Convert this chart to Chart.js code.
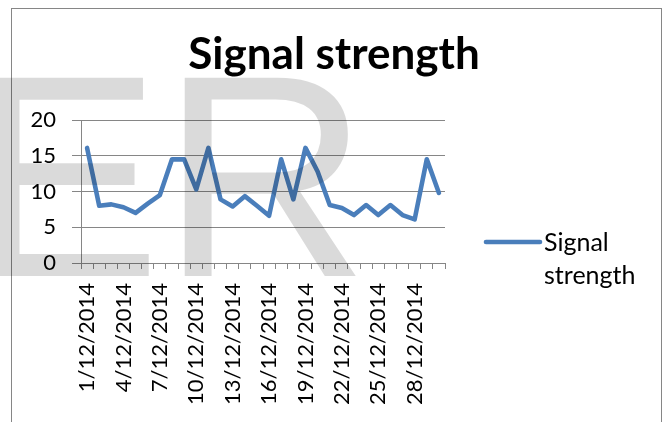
<!DOCTYPE html>
<html>
<head>
<meta charset="utf-8">
<script src="https://cdn.jsdelivr.net/npm/chart.js@4"></script>
<style>
  html, body { margin: 0; padding: 0; background: #ffffff; }
  #wrap { position: relative; width: 668px; height: 422px; }
</style>
</head>
<body>
<div id="wrap"><canvas id="chart" width="668" height="422"></canvas></div>
<script>
// Daily dates for December 2014
const days = [
  '1/12/2014', '2/12/2014', '3/12/2014', '4/12/2014', '5/12/2014', '6/12/2014',
  '7/12/2014', '8/12/2014', '9/12/2014', '10/12/2014', '11/12/2014', '12/12/2014',
  '13/12/2014', '14/12/2014', '15/12/2014', '16/12/2014', '17/12/2014', '18/12/2014',
  '19/12/2014', '20/12/2014', '21/12/2014', '22/12/2014', '23/12/2014', '24/12/2014',
  '25/12/2014', '26/12/2014', '27/12/2014', '28/12/2014', '29/12/2014', '30/12/2014'
];

// Measured signal strength per day
const signalStrength = [
  16.1, 8.0, 8.2, 7.8, 7.0, 8.3,
  9.5, 14.5, 14.5, 10.3, 16.1, 8.9,
  7.9, 9.35, 8.0, 6.6, 14.5, 8.9,
  16.1, 12.8, 8.1, 7.7, 6.7, 8.1,
  6.7, 8.1, 6.7, 6.1, 14.5, 9.8
];

const yTickValues = [0, 5, 10, 15, 20];
const seriesName = 'Signal strength';
const watermarkText = 'ER';

const AXIS_GREY = '#868686';
const LINE_BLUE = '#4a7ebb';
const FONT = 'Lato, "Open Sans", sans-serif';

// Outer frame of the chart object
const framePlugin = {
  id: 'frame',
  beforeDraw(chart) {
    const ctx = chart.ctx;
    ctx.save();
    ctx.strokeStyle = AXIS_GREY;
    ctx.lineWidth = 1;
    ctx.strokeRect(11.5, 8.5, 650, 500);
    ctx.restore();
  }
};

// Legend drawn to the right of the plot: line sample plus wrapped label
const sideLegendPlugin = {
  id: 'sideLegend',
  afterDatasetsDraw(chart) {
    const ctx = chart.ctx;
    const ds = chart.data.datasets[0];
    const area = chart.chartArea;
    const x0 = area.right + 41;
    const yLine = area.top + 122;
    ctx.save();
    ctx.strokeStyle = ds.borderColor;
    ctx.lineWidth = ds.borderWidth;
    ctx.lineCap = 'round';
    ctx.beginPath();
    ctx.moveTo(x0, yLine);
    ctx.lineTo(x0 + 54, yLine);
    ctx.stroke();
    ctx.fillStyle = '#000000';
    ctx.font = '25px ' + FONT;
    ctx.textAlign = 'left';
    ctx.textBaseline = 'alphabetic';
    const words = ds.label.split(' ');
    words.forEach((w, i) => {
      ctx.fillText(w, x0 + 58, yLine + 8.5 + i * 33);
    });
    ctx.restore();
  }
};

// Translucent lettering laid over the whole picture
const watermarkPlugin = {
  id: 'watermark',
  afterDraw(chart) {
    const ctx = chart.ctx;
    ctx.save();
    ctx.fillStyle = 'rgba(0, 0, 0, 0.145)';
    ctx.font = '288px "Liberation Sans", Arial, sans-serif';
    ctx.textAlign = 'left';
    ctx.textBaseline = 'alphabetic';
    ctx.fillText(watermarkText, -31, 276);
    ctx.restore();
  }
};

new Chart(document.getElementById('chart'), {
  type: 'line',
  data: {
    labels: days,
    datasets: [{
      label: seriesName,
      data: signalStrength,
      borderColor: LINE_BLUE,
      backgroundColor: LINE_BLUE,
      borderWidth: 4.6,
      borderJoinStyle: 'round',
      borderCapStyle: 'round',
      pointRadius: 0,
      pointHoverRadius: 0,
      tension: 0,
      fill: false
    }]
  },
  options: {
    responsive: false,
    animation: false,
    devicePixelRatio: 1,
    layout: { padding: { left: 0, right: 0, top: 0, bottom: 0 } },
    plugins: {
      legend: { display: false },
      tooltip: { enabled: false },
      title: {
        display: true,
        text: seriesName,
        color: '#000000',
        font: { family: FONT, size: 44, weight: 'bold', lineHeight: 1.2 },
        padding: { top: 28.8, bottom: 38.4 }
      }
    },
    scales: {
      x: {
        type: 'category',
        offset: true,
        grid: {
          display: true,
          drawOnChartArea: false,
          drawTicks: true,
          tickLength: 6,
          offset: true,
          color: AXIS_GREY,
          lineWidth: 1
        },
        border: { display: true, color: AXIS_GREY, width: 1 },
        ticks: {
          autoSkip: false,
          minRotation: 90,
          maxRotation: 90,
          padding: 14,
          color: '#000000',
          font: { family: FONT, size: 22 },
          callback: function (value, index) {
            return index % 3 === 0 ? this.getLabelForValue(value) : '';
          }
        },
        afterFit: (scale) => { scale.height = 159; }
      },
      y: {
        type: 'linear',
        min: 0,
        max: 20,
        grid: {
          color: AXIS_GREY,
          lineWidth: 1,
          drawTicks: true,
          tickLength: 9
        },
        border: { display: true, color: AXIS_GREY, width: 1 },
        ticks: {
          padding: 16,
          color: '#000000',
          font: { family: FONT, size: 22 }
        },
        afterBuildTicks: (scale) => {
          scale.ticks = yTickValues.map(v => ({ value: v }));
        },
        afterFit: (scale) => { scale.width = 81; }
      },
      // reserves the band on the right where the legend sits
      legendSpace: {
        type: 'linear',
        position: 'right',
        display: true,
        grid: { display: false, drawTicks: false },
        border: { display: false },
        ticks: { display: false },
        afterFit: (scale) => { scale.width = 223; }
      }
    }
  },
  plugins: [framePlugin, sideLegendPlugin, watermarkPlugin]
});
</script>
</body>
</html>
